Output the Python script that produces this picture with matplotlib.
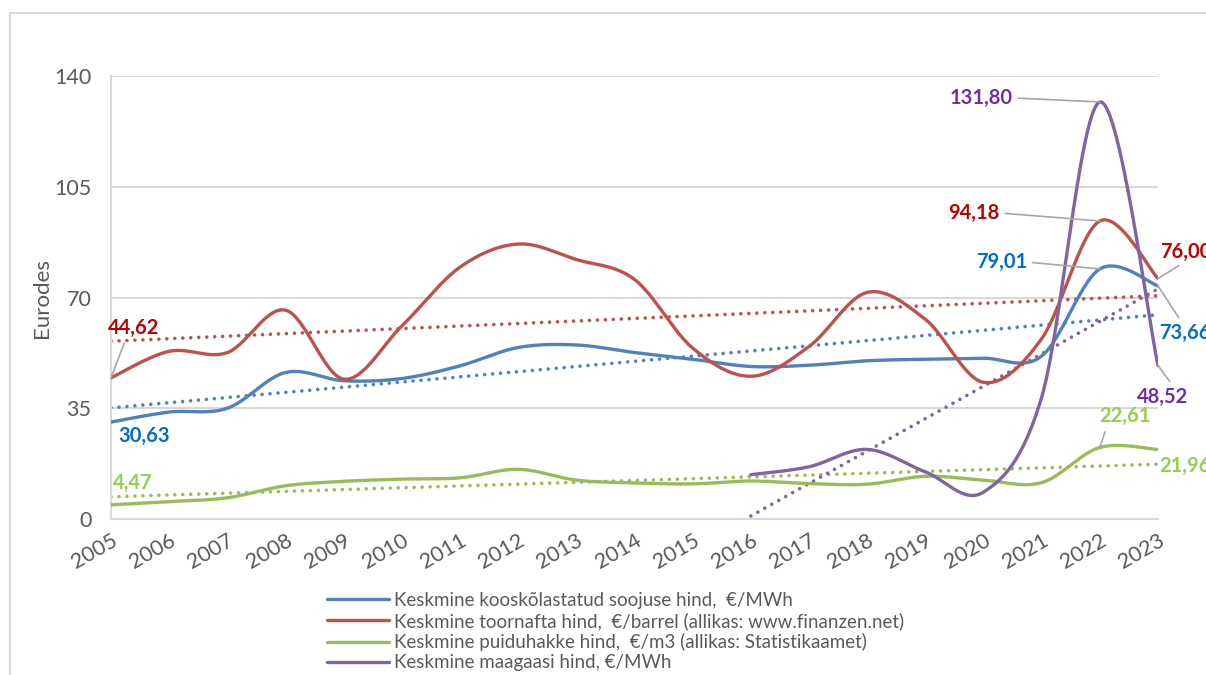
import numpy as np
import matplotlib
matplotlib.use("Agg")
import matplotlib.pyplot as plt
from matplotlib.patches import Rectangle

plt.rcParams['font.family'] = ['Lato', 'DejaVu Sans']

years = list(range(2005, 2024))
year_labels = [str(y) for y in years]

heat = [30.63, 33.8, 35.0, 46.3, 43.7, 44.4, 48.4, 54.2, 55.0, 52.6,
        50.5, 48.2, 48.6, 50.0, 50.5, 50.8, 51.5, 79.01, 73.66]
oil = [44.62, 53.0, 52.6, 66.0, 44.2, 61.0, 79.6, 86.9, 82.0, 75.7,
       54.0, 45.1, 54.5, 71.6, 63.1, 43.2, 57.0, 94.18, 76.00]
chips = [4.47, 5.5, 6.7, 10.5, 11.9, 12.6, 13.0, 15.7, 12.3, 11.4,
         11.1, 12.0, 11.2, 11.0, 13.5, 12.3, 11.5, 22.61, 21.96]
gas = [np.nan] * 11 + [14.0, 16.5, 22.0, 14.9, 8.5, 38.5, 131.80, 48.52]

names = [
    "Keskmine kooskõlastatud soojuse hind,  €/MWh",
    "Keskmine toornafta hind,  €/barrel (allikas: www.finanzen.net)",
    "Keskmine puiduhakke hind,  €/m3 (allikas: Statistikaamet)",
    "Keskmine maagaasi hind, €/MWh",
]
line_colors = ["#4F81BD", "#C0504D", "#9BBB59", "#8064A2"]
label_colors = ["#0070C0", "#C00000", "#92D050", "#7030A0"]


def smooth(x, y, n=30):
    # Bezier smoothing through every point, like a spreadsheet "smoothed line"
    x = np.asarray(x, float)
    y = np.asarray(y, float)
    P = np.column_stack([x, y])
    out = []
    t = np.linspace(0, 1, n)[:, None]
    for i in range(len(P) - 1):
        p0 = P[i - 1] if i > 0 else P[i]
        p1, p2 = P[i], P[i + 1]
        p3 = P[i + 2] if i + 2 < len(P) else P[i + 1]
        c1 = p1 + (p2 - p0) / 6
        c2 = p2 - (p3 - p1) / 6
        seg = ((1 - t) ** 3) * p1 + 3 * ((1 - t) ** 2) * t * c1 + 3 * (1 - t) * t ** 2 * c2 + t ** 3 * p2
        out.append(seg if i == 0 else seg[1:])
    pts = np.vstack(out)
    return pts[:, 0], pts[:, 1]


fig = plt.figure(figsize=(12.06, 6.75), dpi=100)
fig.patches.append(Rectangle((10 / 1206, -0.1), 1.2, 1.1 - 13 / 675, transform=fig.transFigure,
                             fill=False, ec="#d9d9d9", lw=1.5))
ax = fig.add_axes([111 / 1206, 1 - 519 / 675, (1158 - 111) / 1206, (519 - 76) / 675])

series = [heat, oil, chips, gas]
lines = []
for vals, col in zip(series, line_colors):
    x = np.array(years, float)
    y = np.array(vals, float)
    ok = ~np.isnan(y)
    sx, sy = smooth(x[ok], y[ok])
    ln, = ax.plot(sx, sy, color=col, lw=2.4, solid_capstyle='round', zorder=3)
    lines.append(ln)
    # linear trend over the series' own range
    k, b = np.polyfit(x[ok], y[ok], 1)
    tx = np.array([x[ok][0], x[ok][-1]])
    ax.plot(tx, k * tx + b, color=col, lw=2.6, ls=(0, (0.01, 2.2)),
            dash_capstyle='round', zorder=2)

ax.set_xlim(2005, 2023)
ax.set_ylim(0, 140)
ax.set_yticks([0, 35, 70, 105, 140])
ax.set_xticks(years)
ax.set_xticklabels(year_labels, rotation=30, ha='right', rotation_mode='anchor')
ax.tick_params(axis='both', length=0, labelsize=15.5, labelcolor="#595959")
ax.tick_params(axis='x', pad=8)
ax.tick_params(axis='y', pad=14)
ax.grid(axis='y', color="#d9d9d9", lw=1.5)
ax.set_axisbelow(True)
for s in ['top', 'right']:
    ax.spines[s].set_visible(False)
for s in ['left', 'bottom']:
    ax.spines[s].set_color("#d9d9d9")
    ax.spines[s].set_linewidth(1.5)
ax.set_ylabel("Eurodes", fontsize=16, color="#595959", labelpad=2)

# value labels: (series, year index, text offset px, ha, leader anchor)
lead = "#a6a6a6"
labels = [
    (1, 0, (23, 50), 'center', (0.35, 0)),
    (0, 0, (7, -14), 'left', None),
    (2, 0, (2, 22), 'left', None),
    (3, 17, (-87, 4), 'right', (1, 0.5)),
    (1, 17, (-100, 8), 'right', (1, 0.5)),
    (0, 17, (-73, 7), 'right', (1, 0.5)),
    (1, 18, (2, 27), 'left', (0.5, 0)),
    (0, 18, (1, -47), 'left', (0.45, 1)),
    (3, 18, (5, -31), 'center', (0.7, 1)),
    (2, 17, (25, 31), 'center', (0.15, 0)),
    (2, 18, (1, -16), 'left', None),
]
for si, yi, off, ha, rel in labels:
    v = series[si][yi]
    txt = f"{v:.2f}".replace('.', ',')
    kw = {}
    if rel is not None:
        kw['arrowprops'] = dict(arrowstyle='-', color=lead, lw=1.2, shrinkA=2, shrinkB=0, relpos=rel)
    ax.annotate(txt, xy=(years[yi], v), xytext=off, textcoords='offset pixels',
                ha=ha, va='center', fontsize=14.5, fontweight='bold',
                color=label_colors[si], annotation_clip=False, zorder=5, **kw)

fig.legend(lines, names, loc='upper left', bbox_to_anchor=(310 / 1206, 1 - 575 / 675),
           frameon=False, fontsize=13.5, handlelength=3.3, handletextpad=0.3,
           labelspacing=0.17, labelcolor="#595959")

fig.savefig("out.png", dpi=100)
